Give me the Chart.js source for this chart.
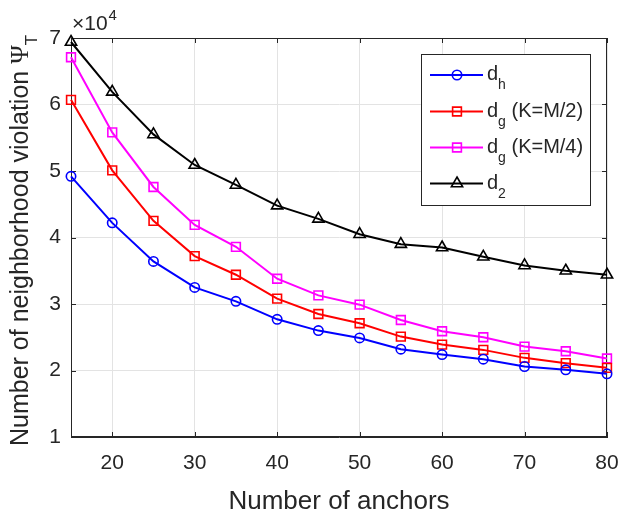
<!DOCTYPE html>
<html lang="en">
<head>
<meta charset="UTF-8">
<title>Neighborhood violation vs anchors</title>
<script src="https://cdn.jsdelivr.net/npm/chart.js"></script>
<style>
  html, body { margin: 0; padding: 0; background: #fff; }
  #wrap { width: 619px; height: 510px; }
</style>
</head>
<body>
<div id="wrap"><canvas id="chart" width="619" height="510"></canvas></div>
<script>
// values in units of 10^4
const anchors   = [15, 20, 25, 30, 35, 40, 45, 50, 55, 60, 65, 70, 75, 80];
const dH        = [4.92, 4.22, 3.64, 3.25, 3.04, 2.77, 2.60, 2.49, 2.32, 2.24, 2.17, 2.06, 2.01, 1.95];
const dgHalf    = [6.07, 5.01, 4.25, 3.72, 3.44, 3.08, 2.85, 2.71, 2.51, 2.39, 2.31, 2.19, 2.11, 2.04];
const dgQuarter = [6.71, 5.58, 4.76, 4.19, 3.86, 3.38, 3.13, 2.99, 2.76, 2.59, 2.50, 2.36, 2.29, 2.18];
const d2        = [6.94, 6.19, 5.55, 5.09, 4.79, 4.48, 4.28, 4.05, 3.90, 3.85, 3.71, 3.58, 3.50, 3.44];

const xTicks = [20, 30, 40, 50, 60, 70, 80];
const yTicks = [1, 2, 3, 4, 5, 6, 7];

// legend entries: main letter, subscript, rest
const legendItems = [
  { sub: 'h', rest: '' },
  { sub: 'g', rest: ' (K=M/2)' },
  { sub: 'g', rest: ' (K=M/4)' },
  { sub: '2', rest: '' }
];

const SANS = '"Liberation Sans", Arial, Helvetica, sans-serif';
const AXIS = '#262626';

function pts(ys) {
  return anchors.map((x, i) => ({ x: x, y: ys[i] }));
}

function series(label, ys, color, style, radius) {
  return {
    label: label,
    data: pts(ys),
    borderColor: color,
    backgroundColor: color,
    borderWidth: 2,
    pointStyle: style,
    pointRadius: radius,
    pointBorderWidth: 1.6,
    pointBackgroundColor: 'rgba(0,0,0,0)',
    pointBorderColor: color,
    tension: 0,
    clip: false
  };
}

// marker for the legend, same shapes as chart.js draws
function marker(ctx, style, x, y, r) {
  ctx.beginPath();
  if (style === 'circle') {
    ctx.arc(x, y, r, 0, Math.PI * 2);
  } else if (style === 'rect') {
    const s = r * Math.SQRT1_2;
    ctx.rect(x - s, y - s, 2 * s, 2 * s);
  } else {
    ctx.moveTo(x, y - r);
    ctx.lineTo(x + Math.sin(2 * Math.PI / 3) * r, y + 0.5 * r);
    ctx.lineTo(x - Math.sin(2 * Math.PI / 3) * r, y + 0.5 * r);
    ctx.closePath();
  }
  ctx.stroke();
}

const decorations = {
  id: 'decorations',
  beforeDatasetsDraw(chart) {
    const { ctx, chartArea: a, scales } = chart;
    ctx.save();
    ctx.strokeStyle = AXIS;
    ctx.lineWidth = 1;
    // box
    ctx.strokeRect(Math.round(a.left) + 0.5, Math.round(a.top) + 0.5,
                   Math.round(a.right - a.left) - 1, Math.round(a.bottom - a.top) - 1);
    // inward tick marks
    ctx.beginPath();
    xTicks.forEach(v => {
      const px = Math.round(scales.x.getPixelForValue(v)) + 0.5;
      ctx.moveTo(px, a.bottom); ctx.lineTo(px, a.bottom - 5);
      ctx.moveTo(px, a.top); ctx.lineTo(px, a.top + 5);
    });
    yTicks.forEach(v => {
      const py = Math.round(scales.y.getPixelForValue(v)) + 0.5;
      ctx.moveTo(a.left, py); ctx.lineTo(a.left + 5, py);
      ctx.moveTo(a.right, py); ctx.lineTo(a.right - 5, py);
    });
    ctx.stroke();
    ctx.restore();
  },
  afterDraw(chart) {
    const { ctx, chartArea: a } = chart;
    ctx.save();
    ctx.fillStyle = AXIS;
    ctx.textBaseline = 'alphabetic';

    // exponent label
    ctx.font = '21px ' + SANS;
    ctx.textAlign = 'left';
    ctx.fillText('\u00d710', a.left + 1, 30);
    const w10 = ctx.measureText('\u00d710').width;
    ctx.font = '15px ' + SANS;
    ctx.fillText('4', a.left + 1 + w10 + 1, 20);

    // y-axis title with Psi_T
    const main = 'Number of neighborhood violation ';
    ctx.font = '25px ' + SANS;
    const wMain = ctx.measureText(main).width;
    ctx.font = '25px "Liberation Serif", "DejaVu Serif", serif';
    const wPsi = ctx.measureText('\u03a8').width;
    ctx.font = '17px ' + SANS;
    const wT = ctx.measureText('T').width;
    const total = wMain + wPsi + wT;
    ctx.translate(28, (a.top + a.bottom) / 2 + 3);
    ctx.rotate(-Math.PI / 2);
    let x0 = -total / 2;
    ctx.font = '25px ' + SANS;
    ctx.fillText(main, x0, 0);
    x0 += wMain;
    ctx.font = '25px "Liberation Serif", "DejaVu Serif", serif';
    ctx.fillText('\u03a8', x0, 0);
    x0 += wPsi;
    ctx.font = '17px ' + SANS;
    ctx.fillText('T', x0, 9);
    ctx.restore();

    // legend
    ctx.save();
    const bx = 421, by = 54, bw = 169, bh = 151;
    ctx.fillStyle = '#fff';
    ctx.fillRect(bx, by, bw, bh);
    ctx.strokeStyle = AXIS;
    ctx.lineWidth = 1;
    ctx.strokeRect(bx + 0.5, by + 0.5, bw, bh);
    const rowY = [75, 111.5, 147.5, 183.5];
    chart.data.datasets.forEach((ds, i) => {
      const y = rowY[i];
      ctx.strokeStyle = ds.borderColor;
      ctx.lineWidth = 2;
      ctx.beginPath();
      ctx.moveTo(430, y); ctx.lineTo(483, y);
      ctx.stroke();
      ctx.lineWidth = ds.pointBorderWidth;
      marker(ctx, ds.pointStyle, 457, y, ds.pointRadius);

      const it = legendItems[i];
      ctx.fillStyle = AXIS;
      ctx.textAlign = 'left';
      let tx = 487;
      ctx.font = '20px ' + SANS;
      ctx.fillText('d', tx, y + 5);
      tx += ctx.measureText('d').width;
      ctx.font = '14px ' + SANS;
      ctx.fillText(it.sub, tx, y + 14);
      tx += ctx.measureText(it.sub).width;
      if (it.rest) {
        ctx.font = '20px ' + SANS;
        ctx.fillText(it.rest, tx, y + 5);
      }
    });
    ctx.restore();
  }
};

const data = {
  datasets: [
    series('d_h', dH, '#0000ff', 'circle', 4.7),
    series('d_g (K=M/2)', dgHalf, '#ff0000', 'rect', 6.2),
    series('d_g (K=M/4)', dgQuarter, '#ff00ff', 'rect', 6.2),
    series('d_2', d2, '#000000', 'triangle', 6.5)
  ]
};

const config = {
  type: 'line',
  data: data,
  options: {
    responsive: false,
    animation: false,
    devicePixelRatio: 1,
    layout: { padding: { left: 0, top: 38, right: 0, bottom: 0 } },
    plugins: {
      legend: { display: false },
      tooltip: { enabled: false }
    },
    scales: {
      x: {
        type: 'linear',
        min: 15,
        max: 80,
        afterBuildTicks: s => { s.ticks = xTicks.map(v => ({ value: v })); },
        afterFit: s => { s.height = 73; s.paddingRight = 12; },
        grid: { color: '#e3e3e3', lineWidth: 1, drawTicks: false },
        border: { display: true, color: AXIS, width: 1 },
        ticks: { color: AXIS, font: { family: SANS, size: 21 }, padding: 14, maxRotation: 0 },
        title: {
          display: true,
          text: 'Number of anchors',
          color: AXIS,
          font: { family: SANS, size: 26, lineHeight: 0.6 },
          padding: 0
        }
      },
      y: {
        type: 'linear',
        min: 1,
        max: 7,
        afterBuildTicks: s => { s.ticks = yTicks.map(v => ({ value: v })); },
        afterFit: s => { s.width = 71; },
        grid: { color: '#e3e3e3', lineWidth: 1, drawTicks: false },
        border: { display: true, color: AXIS, width: 1 },
        ticks: { color: AXIS, font: { family: SANS, size: 21 }, padding: 10 }
      }
    }
  },
  plugins: [decorations]
};

new Chart(document.getElementById('chart').getContext('2d'), config);
</script>
</body>
</html>
